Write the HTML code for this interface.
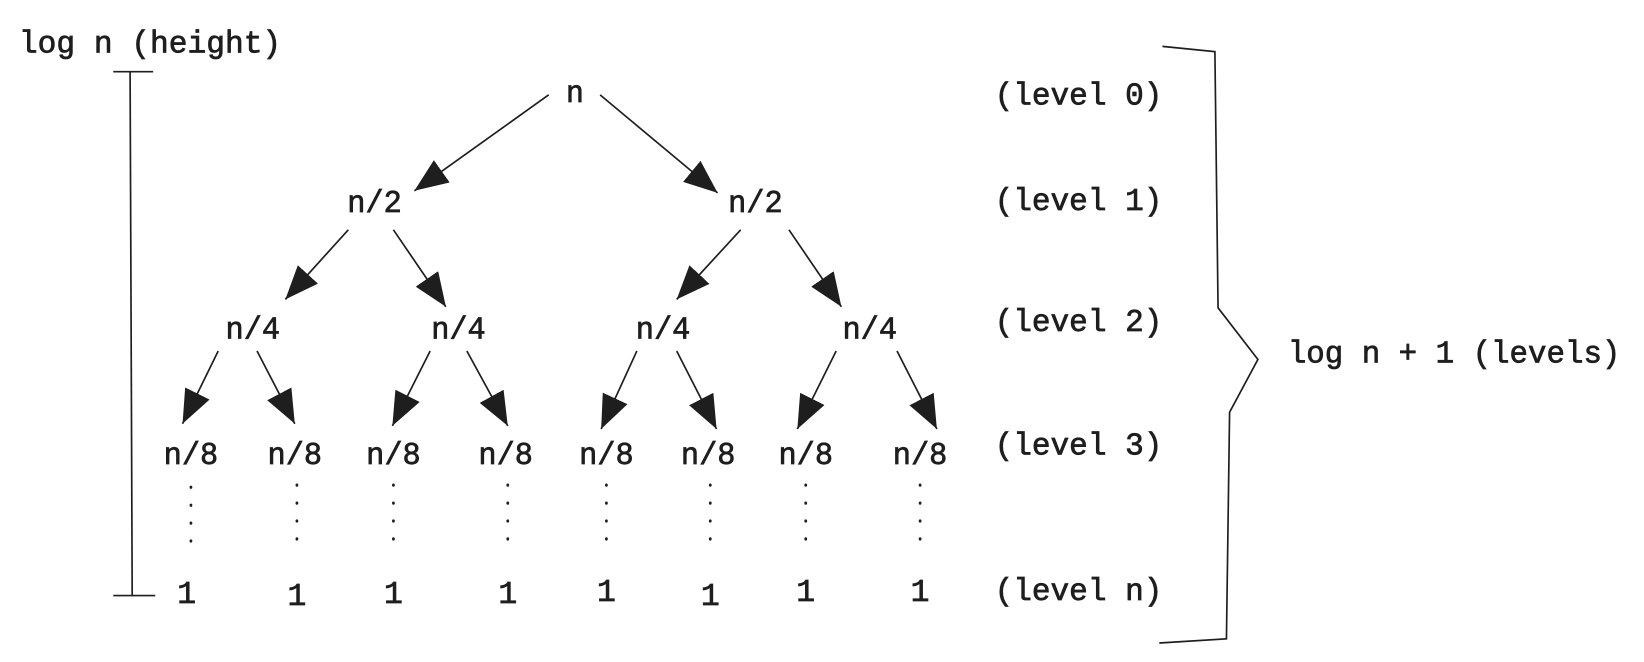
<!DOCTYPE html>
<html><head><meta charset="utf-8"><style>
html,body{margin:0;padding:0;background:#fff;}
svg{display:block;}
text{font-family:"Liberation Mono","DejaVu Sans Mono",monospace;font-size:30px;fill:#1e1e1e;stroke:#1e1e1e;stroke-width:0.7;}
</style></head><body>
<svg width="1644" height="662" viewBox="0 0 1567 628" preserveAspectRatio="none" xmlns="http://www.w3.org/2000/svg">
<defs>
<marker id="a" markerUnits="userSpaceOnUse" markerWidth="34" markerHeight="28" refX="32" refY="13" orient="auto">
<path d="M0,0 L32,13 L0,26 Z" fill="#1e1e1e"/>
</marker>
</defs>
<g stroke="#1e1e1e" stroke-width="1.6" fill="none">
<line x1="108" y1="68" x2="146" y2="68"/>
<line x1="124" y1="68" x2="126" y2="565"/>
<line x1="108" y1="565" x2="148" y2="565"/>
<polyline points="1108,44 1158,49 1161,292 1199,341 1172,391 1169,606 1105,610"/>
</g>
<g stroke="#1e1e1e" stroke-width="1.6" marker-end="url(#a)">
<line x1="523" y1="90" x2="395" y2="181"/>
<line x1="572" y1="90" x2="684" y2="183"/>
<line x1="332" y1="218" x2="272" y2="284"/>
<line x1="375" y1="218" x2="425" y2="291"/>
<line x1="706" y1="218" x2="645" y2="284"/>
<line x1="752" y1="218" x2="802" y2="291"/>
<line x1="208" y1="333" x2="174" y2="402"/>
<line x1="245" y1="333" x2="281" y2="402"/>
<line x1="410" y1="333" x2="374" y2="404"/>
<line x1="445" y1="333" x2="484" y2="404"/>
<line x1="607" y1="333" x2="573" y2="407"/>
<line x1="645" y1="333" x2="683" y2="407"/>
<line x1="797" y1="333" x2="760" y2="407"/>
<line x1="855" y1="333" x2="893" y2="407"/>
</g>
<g stroke="#1e1e1e" stroke-width="2.6" stroke-linecap="round" stroke-dasharray="0.5 16.5">
<line x1="182" y1="462" x2="182" y2="530"/>
<line x1="283" y1="460" x2="283" y2="528"/>
<line x1="375" y1="460" x2="375" y2="528"/>
<line x1="484" y1="460" x2="484" y2="528"/>
<line x1="578" y1="460" x2="578" y2="528"/>
<line x1="677" y1="460" x2="677" y2="528"/>
<line x1="768" y1="460" x2="768" y2="528"/>
<line x1="877" y1="460" x2="877" y2="528"/>
</g>
<g text-anchor="middle">
<text x="143" y="50" textLength="250" lengthAdjust="spacingAndGlyphs">log n (height)</text>
<text x="548" y="97" textLength="17" lengthAdjust="spacingAndGlyphs">n</text>
<text x="357" y="201" textLength="52" lengthAdjust="spacingAndGlyphs">n/2</text>
<text x="720" y="201" textLength="52" lengthAdjust="spacingAndGlyphs">n/2</text>
<text x="241" y="321" textLength="52" lengthAdjust="spacingAndGlyphs">n/4</text>
<text x="437" y="321" textLength="52" lengthAdjust="spacingAndGlyphs">n/4</text>
<text x="632" y="321" textLength="52" lengthAdjust="spacingAndGlyphs">n/4</text>
<text x="829" y="321" textLength="52" lengthAdjust="spacingAndGlyphs">n/4</text>
<text x="182" y="440" textLength="52" lengthAdjust="spacingAndGlyphs">n/8</text>
<text x="281" y="440" textLength="52" lengthAdjust="spacingAndGlyphs">n/8</text>
<text x="375" y="440" textLength="52" lengthAdjust="spacingAndGlyphs">n/8</text>
<text x="482" y="440" textLength="52" lengthAdjust="spacingAndGlyphs">n/8</text>
<text x="578" y="440" textLength="52" lengthAdjust="spacingAndGlyphs">n/8</text>
<text x="675" y="440" textLength="52" lengthAdjust="spacingAndGlyphs">n/8</text>
<text x="768" y="440" textLength="52" lengthAdjust="spacingAndGlyphs">n/8</text>
<text x="877" y="440" textLength="52" lengthAdjust="spacingAndGlyphs">n/8</text>
<text x="178" y="572">1</text>
<text x="283" y="574">1</text>
<text x="375" y="572">1</text>
<text x="484" y="572">1</text>
<text x="578" y="570">1</text>
<text x="677" y="574">1</text>
<text x="768" y="570">1</text>
<text x="877" y="570">1</text>
<text x="1028" y="99" textLength="160" lengthAdjust="spacingAndGlyphs">(level 0)</text>
<text x="1028" y="199" textLength="160" lengthAdjust="spacingAndGlyphs">(level 1)</text>
<text x="1028" y="314" textLength="160" lengthAdjust="spacingAndGlyphs">(level 2)</text>
<text x="1028" y="431" textLength="160" lengthAdjust="spacingAndGlyphs">(level 3)</text>
<text x="1028" y="569" textLength="160" lengthAdjust="spacingAndGlyphs">(level n)</text>
<text x="1386" y="344" textLength="317" lengthAdjust="spacingAndGlyphs">log n + 1 (levels)</text>
</g>
</svg>
</body></html>
